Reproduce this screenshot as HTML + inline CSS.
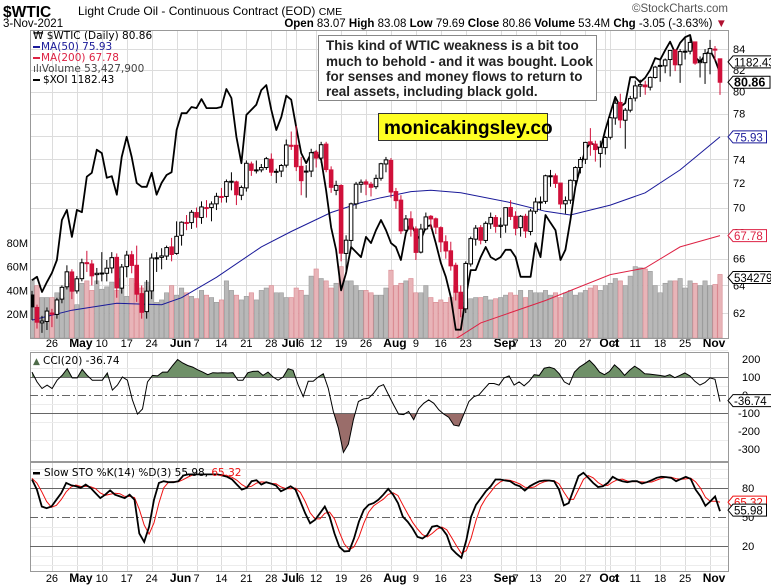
<!DOCTYPE html>
<html><head><meta charset="utf-8">
<style>
html,body{margin:0;padding:0;background:#fff;}
svg{display:block;font-family:"Liberation Sans",sans-serif;}
</style></head>
<body>
<svg id="chart" width="771" height="586" viewBox="0 0 771 586" xmlns="http://www.w3.org/2000/svg"></svg>
<script>
const opens=[63.3,62.4,61.3,61.4,62.0,61.9,63.0,63.9,65.0,63.6,64.5,65.7,65.6,64.8,64.9,64.9,65.3,66.1,63.8,65.4,66.3,65.5,63.4,62.1,63.6,66.0,66.1,66.2,66.9,66.4,67.8,68.8,68.8,69.6,69.2,70.0,70.0,70.3,70.9,70.9,72.1,72.1,71.0,71.6,73.6,73.1,73.1,73.3,74.0,72.9,73.0,73.5,75.2,75.2,73.4,73.0,73.0,74.6,74.1,75.3,73.1,71.4,71.8,66.4,67.4,70.3,71.9,72.1,71.9,71.7,72.4,73.6,73.9,71.3,70.6,68.2,69.1,68.3,66.5,68.3,69.3,69.1,68.4,67.3,66.6,65.5,63.5,62.3,65.6,67.5,68.4,67.4,68.7,69.2,68.5,68.6,70.0,69.3,68.4,69.3,68.1,69.7,70.4,70.5,72.6,72.6,72.0,70.3,70.6,72.2,73.3,74.0,75.5,75.3,74.5,75.0,75.9,77.6,79.0,77.4,78.3,79.4,80.5,80.6,80.4,81.3,82.4,82.4,83.0,83.9,82.5,83.8,83.8,84.7,82.7,82.7,83.6,84.0,83.07];
const highs=[63.6,62.6,61.8,62.4,62.3,63.1,64.0,65.5,65.2,64.7,66.0,66.6,65.9,65.3,66.5,65.9,66.5,66.4,65.6,66.6,66.6,67.0,64.0,64.4,66.4,66.5,66.8,67.0,67.6,68.9,68.9,69.4,69.8,70.0,70.5,70.6,70.5,71.2,71.6,72.3,72.9,72.2,71.8,73.9,73.8,73.9,73.6,74.2,74.5,73.2,73.6,75.7,76.4,76.9,74.2,73.5,74.9,74.8,75.5,75.5,73.4,72.2,71.9,67.8,70.4,72.1,72.3,72.3,72.1,72.7,73.7,74.2,74.1,71.6,71.0,69.4,69.7,68.5,68.7,69.6,69.4,69.2,68.5,67.8,67.3,65.7,64.0,65.8,67.7,68.6,68.6,68.9,69.6,69.4,69.2,70.0,70.6,69.7,69.4,69.5,69.9,70.8,70.9,72.7,73.1,72.8,72.0,70.9,72.3,73.4,74.2,75.5,76.7,75.6,75.6,76.0,77.7,79.5,79.8,78.5,79.6,81.0,81.1,81.0,81.4,82.4,83.0,83.1,83.9,84.0,84.0,85.1,85.4,84.7,83.3,84.0,84.9,84.3,83.08];
const lows=[61.5,60.9,60.6,60.8,61.0,61.6,62.7,63.7,63.0,63.4,64.3,65.0,64.0,64.1,64.3,64.3,64.9,63.1,63.4,64.6,64.9,62.8,61.6,61.6,63.0,65.0,65.2,65.9,65.8,66.3,67.0,68.2,68.3,68.4,68.7,69.2,68.9,69.8,70.4,70.4,71.4,70.2,70.6,71.3,72.6,72.8,72.9,73.1,72.6,72.0,72.5,73.3,74.8,73.0,71.0,70.8,72.5,73.3,73.7,72.9,71.2,71.0,65.8,65.0,66.7,69.9,71.2,71.0,70.9,71.5,72.2,72.9,70.8,69.9,67.9,68.0,67.7,65.9,66.4,68.2,68.3,67.9,66.5,66.0,65.1,62.9,61.7,62.0,65.4,67.0,67.1,67.2,68.3,68.0,67.6,68.0,69.0,67.8,67.7,67.6,67.8,69.5,69.8,70.3,71.7,71.6,69.9,69.5,70.3,71.9,72.8,73.6,74.3,73.8,73.3,74.4,75.7,77.0,76.7,74.9,78.1,79.1,79.5,79.7,80.1,81.2,80.9,81.7,81.4,81.9,80.8,83.0,83.5,82.5,81.3,80.7,81.6,82.9,79.69];
const closes=[62.44,61.35,61.43,62.14,61.91,62.94,63.86,65.01,63.58,64.49,65.69,65.63,64.71,64.90,64.92,65.28,66.08,63.82,65.37,66.27,65.49,63.36,62.05,63.58,66.05,66.07,66.21,66.85,66.32,67.72,68.83,68.81,69.62,69.23,70.05,69.96,70.29,70.91,70.88,72.12,72.15,71.04,71.64,73.66,73.06,73.08,73.30,74.05,72.91,72.98,73.47,75.23,75.16,73.37,72.20,72.94,74.56,74.10,75.25,73.13,71.65,71.81,66.42,67.42,70.30,71.91,72.07,71.91,71.65,72.39,73.62,73.95,71.26,70.56,68.15,69.09,68.28,66.48,68.29,69.25,69.09,68.44,67.29,66.59,65.46,63.50,62.32,65.64,67.54,68.36,67.42,68.74,69.21,68.50,68.59,69.99,69.29,68.35,69.30,68.14,69.72,70.45,70.46,72.61,72.61,71.97,70.29,70.56,72.23,73.30,73.98,75.45,75.29,74.83,75.03,75.88,77.62,78.93,77.43,78.30,79.35,80.52,80.64,80.44,81.31,82.28,82.44,82.96,83.87,82.50,83.76,83.76,84.65,82.66,82.81,83.57,84.05,83.91,80.86];
const volumes=[49,44,34,34,34,38,34,46,52,28,46,48,40,48,41,43,47,40,50,35,50,46,42,47,44,30,32,38,44,36,42,38,35,33,40,36,34,30,32,48,40,36,32,35,38,32,40,42,44,38,38,34,34,42,40,36,52,58,50,48,42,46,60,48,48,44,40,40,38,36,36,42,57,44,46,48,50,38,38,44,34,30,32,30,34,44,36,30,33,34,34,35,32,33,34,36,38,36,40,34,40,38,38,40,36,38,34,38,40,36,38,40,42,44,40,44,46,50,48,44,52,60,59,58,56,44,38,46,48,48,50,42,48,46,44,48,44,45,53.4];
const xoi=[814,820,793,811,827,850,921,939,891,939,935,998,1005,1046,1040,996,999,966,1033,1069,1033,987,980,980,1005,966,987,1001,1006,1081,1111,1111,1122,1120,1136,1120,1120,1120,1122,1154,1138,1069,1022,1108,1117,1126,1152,1161,1117,1081,1104,1142,1135,1086,1040,1022,1040,1042,1028,974,908,868,796,827,873,864,855,891,880,903,921,903,880,873,850,898,916,894,886,909,912,880,845,820,784,726,726,784,832,832,855,873,855,850,855,868,868,855,820,820,820,880,855,930,916,903,850,868,921,980,1015,1046,1058,1054,1046,1081,1111,1140,1122,1129,1175,1175,1166,1174,1188,1209,1206,1223,1238,1218,1236,1246,1250,1211,1202,1214,1223,1206,1182.43];
const ma50Idx=[0,8,17,26,30,37,46,52,60,66,70,76,80,86,96,103,108,116,123,130,134,138];
const ma50Val=[61.5,62.2,62.7,62.6,63.1,64.6,66.9,68.1,69.6,70.4,70.8,71.3,71.4,71.2,70.4,69.7,69.4,70.2,71.2,73.1,74.5,75.93];
const ma200Idx=[0,40,80,86,90,103,116,123,130,138];
const ma200Val=[51.5,56.0,59.2,60.4,61.3,62.9,64.8,65.3,66.9,67.78];
const cci=[127,73,36,55,36,82,109,146,95,95,142,109,82,82,82,122,27,55,100,82,-27,-106,-78,73,109,106,127,127,164,197,178,164,155,140,127,113,124,122,124,122,124,82,82,124,131,133,109,127,100,82,100,146,137,55,-9,76,76,100,118,36,-91,-182,-319,-273,-137,-36,-22,-18,9,46,58,0,-55,-106,-109,-91,-137,-76,-46,-27,-46,-82,-106,-124,-167,-173,-106,-36,-9,0,33,64,64,55,95,106,55,73,51,76,113,109,149,155,146,118,73,58,127,155,173,193,164,127,113,131,167,142,109,137,160,142,118,116,113,109,104,113,96,109,122,106,76,55,69,95,87,-36.74];
const stoK=[88.7,78.3,60.8,59.1,60.8,67.8,74.8,85.2,82.8,81.7,80,83.5,80,74.8,69.5,73,77.6,73,71.3,69.5,73,67.8,32.9,24.2,39.9,67.8,85.2,87,85.9,85.9,87,92.9,94,94,94,94,94,94,94,92.9,91.5,88.7,83.5,78.3,80,87,88,83.5,85.9,84.5,82.4,76.5,79,81.7,78.3,66,53.8,43.4,46.9,53.8,60.8,50.4,32.9,19,14.4,14.8,27.7,45.1,57.3,62.6,64.3,67.8,73,79,73,64.3,50.4,45.1,38.1,29.4,27.7,31.2,39.9,40.9,38.1,31.2,17.2,12,7.8,25.9,50.4,62.6,69.5,76.5,81.7,88.7,88.7,87.7,87,83.5,81.7,77.2,81.7,84.5,87,87.7,87.7,87,78.3,61.9,64.3,78.3,92.2,95.7,90.5,85.2,81,81.7,85.2,91.5,88.7,87,85.9,87,87,84.5,85.9,88,90.5,91.5,91.2,90.5,87,89.4,91.5,89.4,78.3,71.3,61.5,66,71.3,55.98];
const stoD=[90,85,76,66,60,62,68,76,81,83,81.5,81.7,81.2,79.4,74.8,72.4,73.4,74.5,74,71.3,71.3,70.1,57.9,41.6,32.3,44,64.3,80,86,86.3,86.3,88.6,91.3,93.6,94,94,94,94,94,93.6,92.8,91,87.9,83.5,80.6,81.8,85,86.2,85.8,84.6,84.3,81.1,79.3,79.1,79.7,75.3,66,54.4,48,48,53.8,55,48,34.1,22.1,16.1,19,29.2,43.4,55,61.4,64.9,68.4,73.3,75,72.1,62.6,53.3,44.5,37.5,31.7,29.4,32.9,37.3,39.6,36.7,28.8,20.1,12.3,15.2,28,46.3,60.8,69.5,75.9,82.3,86.4,88.4,87.8,86.1,84.1,80.8,80.2,81.1,84.4,86.4,87.5,87.5,84.3,75.7,68.2,68.2,78.3,88.7,92.8,90.5,85.6,82.6,82.6,86.1,88.5,89.1,87.2,86.6,86.6,86.2,85.8,86.1,88.1,90,91.1,91.1,89.6,89,89.3,90.1,86.4,79.7,70.4,66.3,66.3,65.32];
const priceTicks=[62,64,66,68,70,72,74,76,78,80,82,84];
const volTicks=[20,40,60,80];
const cciTicks=[200,100,0,-100,-200,-300];
const stoTicks=[80,50,20];
const holidays=["2021-05-31","2021-07-05","2021-09-06"];

const NS="http://www.w3.org/2000/svg";
const svg=document.getElementById('chart');
const L=30,R=728,MT=30,MB=338,CT=352,CB=461,ST=462,SB=571;
function mk(tag,attrs,parent){const e=document.createElementNS(NS,tag);for(const k in attrs)e.setAttribute(k,attrs[k]);(parent||svg).appendChild(e);return e;}
function txt(x,y,s,attrs,parent){const t=mk('text',Object.assign({x:x,y:y},attrs||{}),parent);t.textContent=s;return t;}

const dates=[];
(function(){let d=new Date(Date.UTC(2021,3,20));while(dates.length<closes.length){const wd=d.getUTCDay();const s=d.toISOString().slice(0,10);if(wd!==0&&wd!==6&&holidays.indexOf(s)<0)dates.push(new Date(d));d=new Date(d.getTime()+86400000);}})();
const step=(R-8-32)/(closes.length-1);
function xAt(i){return 32+i*step;}
function yP(p){return 3899.5-869*Math.log(p);}
function yV(v){return MB-v*1.19;}
function yX(v){return 35+(1250-v)*0.5624;}
function yC(v){return 395-v*0.18;}
function yS(v){return 565.3-v*0.967;}

const defs=mk('defs',{});
function clip(id,x,y,w,h){const c=mk('clipPath',{id:id},defs);mk('rect',{x:x,y:y,width:w,height:h},c);}
clip('cm',L,MT,R-L,MB-MT);clip('cc',L,CT,R-L,CB-CT);clip('cs',L,ST,R-L,SB-ST);
clip('cAbove',L,CT,R-L,yC(100)-CT);clip('cBelow',L,yC(-100),R-L,CB-yC(-100));

const months=["Jan","Feb","Mar","Apr","May","Jun","Jul","Aug","Sep","Oct","Nov","Dec"];
const xLabels=[];
for(let i=0;i<dates.length;i++){
  const d=dates[i],prev=i>0?dates[i-1]:null;
  const newMonth=prev&&d.getUTCMonth()!==prev.getUTCMonth();
  const newWeek=prev&&(d.getUTCDay()<prev.getUTCDay()||(d-prev)>3*86400000);
  if(newMonth)xLabels.push({i:i,t:months[d.getUTCMonth()],b:true});
  if(newWeek&&!newMonth){
    const last=xLabels[xLabels.length-1];
    const nextM=dates.slice(i+1,i+3).some(dd=>dd.getUTCMonth()!==d.getUTCMonth());
    if(!nextM)xLabels.push({i:i,t:String(d.getUTCDate()),b:false,shift:(last&&last.b&&i-last.i<=2)?5:0});}
}
const gridG=mk('g',{'stroke':'#dcdcdc','stroke-width':1});


[[MT,MB],[CT,CB],[ST,SB]].forEach(p=>{xLabels.forEach(l=>{const x=Math.round(xAt(l.i))+0.5;mk('line',{x1:x,x2:x,y1:p[0],y2:p[1]},gridG);});});
priceTicks.forEach(p=>{const y=Math.round(yP(p))+0.5;mk('line',{x1:L,x2:R,y1:y,y2:y},gridG);});
[250,150,50,-50,-150,-250].forEach(v=>{const y=Math.round(yC(v))+0.5;mk('line',{x1:L,x2:R,y1:y,y2:y,stroke:'#ececec'},gridG);});
[100,90,70,60,40,30,10,0].forEach(v=>{const y=Math.round(yS(v))+0.5;mk('line',{x1:L,x2:R,y1:y,y2:y,stroke:'#ececec'},gridG);});

[[347,'date-axis-top'],[582,'date-axis-bottom']].forEach(a=>{
  const g=mk('g',{'font-size':11,'fill':'#000','text-anchor':'middle'});
  
  
  xLabels.forEach(l=>{txt(xAt(l.i)+(l.b?4:0)+(l.shift||0),a[0],l.t,{'font-weight':l.b?'bold':'normal','font-size':l.b?12:11},g);});
});

const volG=mk('g',{'clip-path':'url(#cm)'});


volumes.forEach((v,i)=>{const down=i>0&&closes[i]<closes[i-1];const y=yV(v);
  const r=mk('rect',{x:xAt(i)-2.2,y:y,width:4.4,height:MB-y,fill:down?'#e8b4b8':'#b8b8b8',stroke:down?'#d98890':'#999','stroke-width':0.6},volG);
  
  });

function pathFrom(idx,val,yf){return idx.map((ix,k)=>(k?'L':'M')+xAt(ix).toFixed(1)+','+yf(val[k]).toFixed(1)).join('');}
const ma200=mk('path',{d:pathFrom(ma200Idx,ma200Val,yP),fill:'none',stroke:'#dd2244','stroke-width':1,'clip-path':'url(#cm)'});


const ma50=mk('path',{d:pathFrom(ma50Idx,ma50Val,yP),fill:'none',stroke:'#1a1a99','stroke-width':1,'clip-path':'url(#cm)'});


const xoiL=mk('path',{d:pathFrom(xoi.map((_,i)=>i),xoi,yX),fill:'none',stroke:'#000','stroke-width':1.8,'stroke-linejoin':'round','clip-path':'url(#cm)'});



const cG=mk('g',{'clip-path':'url(#cm)'});


closes.forEach((c,i)=>{const o=opens[i];const down=i>0&&c<closes[i-1];const col=down?'#d0103a':'#000';
  const x=xAt(i);
  const w=mk('line',{x1:x,x2:x,y1:yP(highs[i]),y2:yP(lows[i]),stroke:col,'stroke-width':1},cG);
  
  
  const top=yP(Math.max(o,c)),bot=yP(Math.min(o,c));
  const b=mk('rect',{x:x-1.8,y:top,width:3.6,height:Math.max(1,bot-top),fill:c>=o?'#fff':col,stroke:col,'stroke-width':1},cG);
  
  });

[[MT,MB],[CT,CB],[ST,SB]].forEach(p=>{const r=mk('rect',{x:L+0.5,y:p[0]+0.5,width:R-L,height:p[1]-p[0],fill:'none',stroke:'#999'});});

const paxis=mk('g',{'font-size':11,fill:'#000'});


priceTicks.forEach(p=>txt(733,yP(p)+4,String(p),{},paxis));
const vaxis=mk('g',{'font-size':11,fill:'#000','text-anchor':'end'});


volTicks.forEach(v=>txt(28,yV(v)+4,v+'M',{},vaxis));

function tag(y,s,col,bold,name){const g=mk('g',{});
  
  
  const w=s.length*(bold?6.6:5.9)+4;
  mk('polygon',{points:`${R},${y} ${R+5},${y-6} ${R+5+w},${y-6} ${R+5+w},${y+6} ${R+5},${y+6}`,fill:'#fff',stroke:col,'stroke-width':1},g);
  txt(R+6,y+4.5,s,{'font-size':bold?12.5:11.5,'font-weight':bold?'bold':'normal',fill:col},g);}
tag(yP(82.3)-5,'1182.43','#000',false,'xoi-value-tag');
tag(yP(80.86),'80.86','#000',true,'last-price-tag');
tag(yP(75.93),'75.93','#1a1a99',false,'ma50-value-tag');
tag(yP(67.78),'67.78','#dd2244',false,'ma200-value-tag');
tag(yV(53.4)+3,'5342790','#000',false,'volume-value-tag');

const cciX=i=>xAt(i*(closes.length-1)/(cci.length-1));
const cciPts=cci.map((v,i)=>cciX(i).toFixed(1)+','+yC(v).toFixed(1));
const fillA=mk('polygon',{points:cciX(0)+','+yC(100)+' '+cciPts.join(' ')+' '+cciX(cci.length-1)+','+yC(100),fill:'#6f9068','clip-path':'url(#cAbove)'});


const fillB=mk('polygon',{points:cciX(0)+','+yC(-100)+' '+cciPts.join(' ')+' '+cciX(cci.length-1)+','+yC(-100),fill:'#9a6d6a','clip-path':'url(#cBelow)'});


[100,-100].forEach(v=>{const y=Math.round(yC(v))+0.5;const l=mk('line',{x1:L,x2:R,y1:y,y2:y,stroke:'#666'});});
const z=mk('line',{x1:L,x2:R,y1:Math.round(yC(0))+0.5,y2:Math.round(yC(0))+0.5,stroke:'#666','stroke-dasharray':'8,3,2,3'});


const cciL=mk('polyline',{points:cciPts.join(' '),fill:'none',stroke:'#000','stroke-width':1,'clip-path':'url(#cc)'});


const caxis=mk('g',{'font-size':11,fill:'#000'});


cciTicks.forEach(v=>txt(v<0?738:742,yC(v)+4,String(v),{},caxis));
tag(yC(-36.74)-1,'-36.74','#000',false,'cci-value-tag');

const stoX=i=>xAt(i*(closes.length-1)/(stoK.length-1));
[80,20].forEach(v=>{const y=Math.round(yS(v))+0.5;const l=mk('line',{x1:L,x2:R,y1:y,y2:y,stroke:'#666'});});
const s50=mk('line',{x1:L,x2:R,y1:Math.round(yS(50))+0.5,y2:Math.round(yS(50))+0.5,stroke:'#666','stroke-dasharray':'8,3,2,3'});


const dL=mk('polyline',{points:stoD.map((v,i)=>stoX(i).toFixed(1)+','+yS(v).toFixed(1)).join(' '),fill:'none',stroke:'#ee1111','stroke-width':1,'clip-path':'url(#cs)'});


const kL=mk('polyline',{points:stoK.map((v,i)=>stoX(i).toFixed(1)+','+yS(v).toFixed(1)).join(' '),fill:'none',stroke:'#000','stroke-width':1.8,'clip-path':'url(#cs)'});


const saxis=mk('g',{'font-size':11,fill:'#000'});


stoTicks.forEach(v=>txt(742,yS(v)+4,String(v),{},saxis));
tag(yS(65.32),'65.32','#ee1111',false,'sto-d-tag');
tag(yS(55.98)-1,'55.98','#000',false,'sto-k-tag');
</script>

<svg style="position:absolute;left:0;top:0" width="771" height="586">
  <g font-family="Liberation Sans, sans-serif">
    <text x="3" y="17" font-size="15.5" font-weight="bold">$WTIC</text>
    <text x="78" y="15" font-size="12">Light Crude Oil - Continuous Contract (EOD) <tspan font-size="10.5">CME</tspan></text>
    <text x="3" y="27" font-size="11.5">3-Nov-2021</text>
    <text x="727" y="27" font-size="11.5" text-anchor="end"><tspan font-weight="bold">Open</tspan> 83.07 <tspan font-weight="bold">High</tspan> 83.08 <tspan font-weight="bold">Low</tspan> 79.69 <tspan font-weight="bold">Close</tspan> 80.86 <tspan font-weight="bold">Volume</tspan> 53.4M <tspan font-weight="bold">Chg</tspan> -3.05 (-3.63%) <tspan fill="#b01030">▼</tspan></text>
    <text x="728" y="12" font-size="11.5" fill="#555" text-anchor="end">©StockCharts.com</text>
  </g>
  <g font-family="DejaVu Sans, sans-serif" font-size="10.5">
    <text x="33" y="39">₩ $WTIC (Daily) 80.86</text>
    <rect x="33" y="46" width="7" height="2" fill="#1a1a99"/><text x="41" y="50" fill="#1a1a99">MA(50) 75.93</text>
    <rect x="33" y="57" width="7" height="2" fill="#dd2244"/><text x="41" y="61" fill="#dd2244">MA(200) 67.78</text>
    <text x="33" y="72" fill="#444">ılıVolume 53,427,900</text>
    <rect x="33" y="79" width="7" height="2" fill="#000"/><text x="43" y="83">$XOI 1182.43</text>
    <text x="43" y="364">CCI(20) -36.74</text>
    <text x="33" y="364" font-size="9" fill="#4d6b48">▲</text>
    <rect x="33" y="472" width="7" height="2.5" fill="#000"/><text x="44" y="476">Slow STO %K(14) %D(3) 55.98, <tspan fill="#ee1111">65.32</tspan></text>
  </g>
  <g>
    <rect x="318.5" y="35.5" width="278" height="65" fill="#fff" stroke="#888"/>
    <g font-family="Liberation Sans, sans-serif" font-size="13.5" font-weight="bold" fill="#222">
      <text x="326" y="50">This kind of WTIC weakness is a bit too</text>
      <text x="326" y="66">much to behold - and it was bought. Look</text>
      <text x="326" y="81">for senses and money flows to return to</text>
      <text x="326" y="96">real assets, including black gold.</text>
    </g>
  </g>
  <g>
    <rect x="378.5" y="113.5" width="169" height="27" fill="#ffff22" stroke="#333"/>
    <text x="384" y="134" font-family="Liberation Sans, sans-serif" font-size="19" font-weight="bold" fill="#000">monicakingsley.co</text>
  </g>
</svg>
</body></html>
